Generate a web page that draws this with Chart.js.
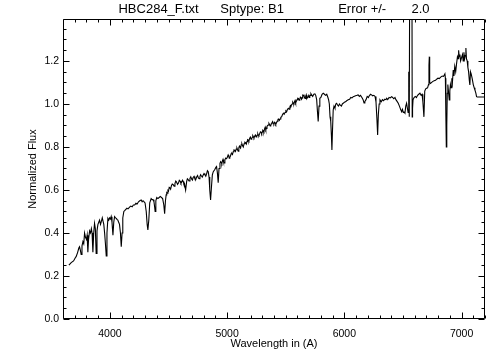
<!DOCTYPE html>
<html>
<head>
<meta charset="utf-8">
<script src="https://cdn.jsdelivr.net/npm/chart.js@4.4.1/dist/chart.umd.min.js"></script>
<style>
  html, body { margin: 0; padding: 0; background: #fff; }
  canvas { display: block; }
</style>
</head>
<body>
<canvas id="spec" width="504" height="360"></canvas>
<script>
// spectrum (Angstrom, normalized flux)
const wavelength = [
  3650, 3670, 3690, 3705, 3712, 3725, 3735, 3741, 3748, 3755,
  3762, 3770, 3777, 3784, 3792, 3800, 3806, 3812, 3818, 3827,
  3835, 3842, 3848, 3855, 3862, 3869, 3876, 3883, 3890, 3898,
  3905, 3912, 3920, 3928, 3935, 3940, 3948, 3955, 3962, 3969,
  3975, 3983, 3990, 3998, 4005, 4011, 4018, 4026, 4033, 4040,
  4048, 4055, 4062, 4068, 4075, 4082, 4090, 4097, 4104, 4110,
  4119, 4128, 4136, 4145, 4155, 4168, 4178, 4190, 4200, 4211,
  4222, 4232, 4244, 4255, 4267, 4275, 4283, 4292, 4300, 4310,
  4318, 4324, 4332, 4340, 4352, 4360, 4368, 4376, 4382, 4386,
  4392, 4400, 4410, 4420, 4430, 4440, 4450, 4460, 4467, 4474,
  4480, 4485, 4490, 4495, 4500, 4506, 4512, 4518, 4525, 4532,
  4540, 4548, 4555, 4562, 4569, 4577, 4585, 4592, 4600, 4606,
  4612, 4619, 4626, 4631, 4636, 4646, 4655, 4661, 4668, 4675,
  4683, 4690, 4698, 4704, 4710, 4718, 4725, 4732,
  4740, 4748, 4755, 4762, 4768, 4774, 4780, 4788, 4795, 4803,
  4811, 4818, 4825, 4832, 4839, 4846, 4852,
  4859, 4866, 4874, 4882, 4895, 4904, 4910, 4917, 4924, 4931,
  4939, 4945, 4950, 4955, 4960, 4965, 4970, 4976, 4981, 4988,
  4995, 5002, 5009, 5014, 5018, 5023, 5028, 5034, 5040, 5046,
  5052, 5058, 5065, 5071, 5078, 5084, 5090, 5095, 5100, 5105,
  5109, 5115, 5120, 5126, 5132, 5138, 5145, 5151, 5158, 5164,
  5170, 5175, 5180, 5186, 5192, 5198, 5204, 5210, 5215, 5219,
  5223, 5229, 5235, 5241, 5248, 5253, 5258, 5262, 5265, 5271,
  5278, 5284, 5290, 5295, 5300, 5304, 5308, 5314, 5320, 5325,
  5330, 5335, 5340, 5346, 5351, 5357, 5362, 5367, 5372, 5377,
  5382, 5388, 5393, 5399, 5405, 5410, 5415, 5422, 5428, 5434,
  5440, 5446, 5452, 5458, 5465, 5472, 5480, 5487, 5494, 5501,
  5508, 5515, 5523, 5529, 5535, 5540, 5545, 5550, 5555, 5560,
  5565, 5570, 5575, 5580, 5585, 5591, 5597, 5602, 5608, 5614,
  5620, 5625, 5630, 5635, 5640, 5645, 5650, 5655, 5660, 5665,
  5670, 5675, 5680, 5686, 5692, 5696, 5700, 5705, 5710, 5715,
  5721, 5730, 5740, 5749, 5756, 5764, 5770, 5777, 5784, 5791,
  5800, 5810, 5820, 5830, 5840, 5850, 5860, 5866, 5872, 5878,
  5884, 5890, 5894, 5898, 5905, 5912, 5920, 5927, 5934, 5942,
  5950, 5958, 5966, 5975, 5983, 5990, 6000, 6010, 6020, 6033,
  6045, 6055, 6065, 6076, 6086, 6096, 6108, 6118, 6128, 6138,
  6150, 6160, 6168, 6175, 6185, 6195, 6205, 6215, 6225, 6232,
  6242, 6252, 6262, 6270, 6278, 6284, 6290, 6297, 6304, 6315,
  6325, 6335, 6345, 6355, 6361, 6370, 6382, 6392, 6403, 6412,
  6422, 6432, 6440, 6450, 6460, 6470, 6480, 6489, 6496, 6503,
  6510, 6517, 6524, 6531, 6538, 6544, 6548, 6551, 6554, 6558,
  6562, 6568, 6574, 6579, 6582, 6586, 6595, 6605, 6615, 6625,
  6635, 6645, 6655, 6663, 6670, 6679, 6686, 6694, 6702, 6710,
  6718, 6722, 6725, 6728, 6735, 6745, 6756, 6766, 6778, 6788,
  6799, 6810, 6822, 6835, 6846, 6858, 6862, 6866, 6870, 6874,
  6878, 6883, 6888, 6895, 6900, 6905, 6910, 6917, 6922, 6929,
  6935, 6942, 6950, 6958, 6965, 6971, 6975, 6980, 6986, 6992,
  7000, 7008, 7014, 7020, 7026, 7032, 7037, 7042, 7048, 7054,
  7060, 7066, 7071, 7076, 7082, 7090, 7100, 7108, 7114, 7122,
  7128, 7135, 7200
];
const flux = [
  0.250, 0.262, 0.270, 0.285, 0.290, 0.310, 0.330, 0.336, 0.320, 0.300,
  0.340, 0.360, 0.350, 0.400, 0.380, 0.370, 0.390, 0.310, 0.370, 0.410,
  0.400, 0.420, 0.400, 0.310, 0.400, 0.445, 0.420, 0.305, 0.410, 0.440,
  0.450, 0.460, 0.440, 0.455, 0.470, 0.470, 0.440, 0.400, 0.350, 0.293,
  0.400, 0.468, 0.460, 0.470, 0.465, 0.476, 0.450, 0.390, 0.450, 0.476,
  0.470, 0.468, 0.462, 0.460, 0.450, 0.440, 0.400, 0.336, 0.400, 0.470,
  0.500, 0.505, 0.510, 0.515, 0.512, 0.520, 0.525, 0.522, 0.530, 0.530,
  0.538, 0.535, 0.545, 0.550, 0.553, 0.545, 0.550, 0.545, 0.540, 0.500,
  0.440, 0.414, 0.460, 0.540, 0.560, 0.555, 0.555, 0.545, 0.520, 0.500,
  0.550, 0.565, 0.560, 0.565, 0.570, 0.565, 0.560, 0.530, 0.490, 0.550,
  0.577, 0.588, 0.585, 0.598, 0.595, 0.612, 0.610, 0.604, 0.620, 0.628,
  0.625, 0.618, 0.630, 0.641, 0.637, 0.626, 0.632, 0.645, 0.640, 0.631,
  0.636, 0.645, 0.639, 0.628, 0.630, 0.600, 0.640, 0.652, 0.648, 0.642,
  0.654, 0.661, 0.650, 0.646, 0.658, 0.663, 0.652, 0.648,
  0.660, 0.667, 0.656, 0.652, 0.662, 0.671, 0.666, 0.660, 0.668, 0.676,
  0.670, 0.664, 0.675, 0.690, 0.685, 0.660, 0.600,
  0.553, 0.610, 0.670, 0.685, 0.695, 0.705, 0.709, 0.680, 0.634, 0.700,
  0.724, 0.732, 0.728, 0.722, 0.735, 0.742, 0.730, 0.726, 0.740, 0.748,
  0.745, 0.752, 0.763, 0.758, 0.748, 0.752, 0.757, 0.768, 0.770, 0.765,
  0.778, 0.786, 0.785, 0.779, 0.790, 0.795, 0.786, 0.780, 0.796, 0.804,
  0.800, 0.795, 0.810, 0.815, 0.806, 0.800, 0.815, 0.822, 0.820, 0.814,
  0.826, 0.834, 0.833, 0.827, 0.840, 0.846, 0.836, 0.840, 0.845, 0.852,
  0.848, 0.842, 0.850, 0.856, 0.847, 0.852, 0.855, 0.861, 0.856, 0.852,
  0.862, 0.870, 0.868, 0.862, 0.870, 0.878, 0.876, 0.870, 0.885, 0.892,
  0.880, 0.886, 0.895, 0.900, 0.902, 0.910, 0.905, 0.898, 0.900, 0.908,
  0.912, 0.918, 0.910, 0.906, 0.915, 0.912, 0.905, 0.914, 0.920, 0.928,
  0.930, 0.924, 0.930, 0.938, 0.940, 0.950, 0.957, 0.952, 0.960, 0.968,
  0.964, 0.975, 0.980, 0.976, 0.985, 0.993, 0.990, 0.996, 1.000, 1.008,
  1.003, 1.000, 1.010, 1.016, 1.005, 1.012, 1.020, 1.027, 1.026, 1.018,
  1.022, 1.032, 1.030, 1.022, 1.028, 1.040, 1.037, 1.044, 1.030, 1.025,
  1.035, 1.042, 1.025, 1.030, 1.034, 1.044, 1.030, 1.036, 1.040, 1.048,
  1.042, 1.035, 1.045, 1.047, 1.040, 1.020, 0.970, 0.918, 0.990, 1.026,
  1.030, 1.045, 1.050, 1.045, 1.040, 1.045, 1.030, 1.019, 1.000, 0.940,
  0.920, 0.850, 0.786, 0.860, 0.972, 0.990, 0.980, 1.000, 1.003, 0.995,
  0.990, 1.000, 0.995, 0.990, 1.000, 1.003, 1.008, 1.010, 1.015, 1.019,
  1.022, 1.030, 1.028, 1.034, 1.036, 1.038, 1.040, 1.042, 1.035, 1.040,
  1.030, 1.020, 1.005, 1.011, 1.020, 1.035, 1.030, 1.040, 1.045, 1.042,
  1.038, 1.040, 1.035, 1.010, 0.930, 0.856, 0.950, 1.000, 1.019, 1.010,
  1.020, 1.015, 1.022, 1.020, 1.026, 1.020, 1.030, 1.028, 1.034, 1.030,
  1.024, 1.030, 1.020, 1.012, 1.003, 0.990, 0.975, 0.964, 0.975, 0.960,
  0.962, 0.957, 0.990, 1.003, 0.980, 0.960, 1.100, 1.150, 0.940, 0.940,
  2.400, 3.000, 2.400, 0.940, 0.980, 1.020, 1.030, 1.035, 1.030, 1.040,
  1.045, 1.050, 1.040, 1.045, 1.010, 0.940, 1.060, 1.070, 1.073, 1.075,
  1.090, 1.180, 1.220, 1.100, 1.095, 1.100, 1.105, 1.108, 1.110, 1.115,
  1.120, 1.118, 1.125, 1.130, 1.128, 1.140, 1.120, 0.950, 0.800, 0.900,
  1.050, 1.090, 1.060, 1.019, 1.060, 1.090, 1.075, 1.120, 1.100, 1.158,
  1.130, 1.175, 1.150, 1.190, 1.220, 1.210, 1.250, 1.220, 1.230, 1.200,
  1.215, 1.230, 1.200, 1.240, 1.210, 1.225, 1.260, 1.210, 1.200, 1.170,
  1.150, 1.110, 1.088, 1.150, 1.140, 1.120, 1.090, 1.075, 1.065, 1.050,
  1.034, 1.032, 1.032
];

const xTickValues = [4000, 5000, 6000, 7000];
const yTickValues = [0.0, 0.2, 0.4, 0.6, 0.8, 1.0, 1.2];
const xRange = [3600, 7200];
const yRange = [0, 1.395];
const titleText = 'HBC284_F.txt      Sptype: B1               Error +/-       2.0';

const fontFamily = "'Liberation Sans', Arial, sans-serif";

// IDL style frame: box on all four sides with inward ticks
const idlAxes = {
  id: 'idlAxes',
  afterDatasetsDraw(chart) {
    const {ctx, chartArea: a, scales: {x, y}} = chart;
    const L = Math.round(a.left) + 0.5, R = Math.round(a.right) - 0.5;
    const T = Math.round(a.top) + 0.5, B = Math.round(a.bottom) - 0.5;
    ctx.save();
    ctx.strokeStyle = '#000';
    ctx.lineWidth = 1;
    ctx.beginPath();
    ctx.rect(L, T, R - L, B - T);
    for (let w = xRange[0]; w <= xRange[1]; w += 100) {
      const len = xTickValues.includes(w) ? 6 : 3;
      const px = Math.round(x.getPixelForValue(w)) + 0.5;
      ctx.moveTo(px, B); ctx.lineTo(px, B - len);
      ctx.moveTo(px, T); ctx.lineTo(px, T + len);
    }
    for (let i = 0; i * 0.05 <= yRange[1]; i++) {
      const len = i % 4 === 0 ? 6 : 3;
      const py = Math.round(y.getPixelForValue(i * 0.05)) + 0.5;
      ctx.moveTo(L, py); ctx.lineTo(L + len, py);
      ctx.moveTo(R, py); ctx.lineTo(R - len, py);
    }
    ctx.stroke();
    ctx.restore();
  }
};

const ctx = document.getElementById('spec').getContext('2d');
new Chart(ctx, {
  type: 'line',
  data: {
    datasets: [{
      data: wavelength.map((w, i) => ({x: w, y: flux[i]})),
      borderColor: '#000',
      borderWidth: 1.1,
      pointRadius: 0,
      tension: 0,
      fill: false
    }]
  },
  options: {
    responsive: false,
    animation: false,
    events: [],
    layout: {padding: {left: 0, right: 19, top: 0, bottom: 0}},
    plugins: {
      legend: {display: false},
      tooltip: {enabled: false},
      title: {
        display: true,
        fullSize: false,
        text: titleText,
        color: '#000',
        font: {family: fontFamily, size: 13, weight: 'normal', lineHeight: 1.2},
        padding: {top: 2, bottom: 1.4}
      }
    },
    scales: {
      x: {
        type: 'linear',
        min: xRange[0],
        max: xRange[1],
        afterBuildTicks: s => { s.ticks = xTickValues.map(v => ({value: v})); },
        afterFit: s => { s.height = 41; },
        grid: {display: false, drawTicks: false},
        border: {display: false},
        ticks: {
          color: '#000',
          padding: 9,
          maxRotation: 0,
          font: {family: fontFamily, size: 10.5},
          callback: v => String(v)
        },
        title: {
          display: true,
          text: 'Wavelength in (A)',
          color: '#000',
          font: {family: fontFamily, size: 11},
          padding: {top: 0, bottom: 9.4}
        }
      },
      y: {
        min: yRange[0],
        max: yRange[1],
        afterBuildTicks: s => { s.ticks = yTickValues.map(v => ({value: v})); },
        afterFit: s => { s.width = 63; },
        grid: {display: false, drawTicks: false},
        border: {display: false},
        ticks: {
          color: '#000',
          padding: 4,
          font: {family: fontFamily, size: 10.5},
          callback: v => v.toFixed(1)
        },
        title: {
          display: true,
          text: 'Normalized Flux',
          color: '#000',
          font: {family: fontFamily, size: 11},
          padding: {top: 26, bottom: 0}
        }
      }
    }
  },
  plugins: [idlAxes]
});
</script>
</body>
</html>
